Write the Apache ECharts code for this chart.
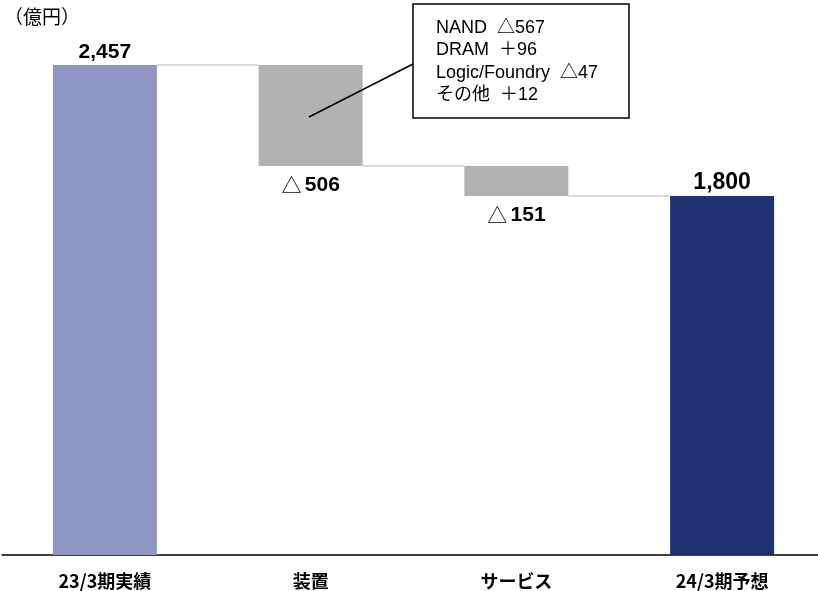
<!DOCTYPE html>
<html>
<head>
<meta charset="utf-8">
<script src="https://cdn.jsdelivr.net/npm/echarts@6/dist/echarts.min.js"></script>
<style>
html,body{margin:0;padding:0;background:#fff;}
#c{width:818px;height:591px;}
</style>
</head>
<body>
<div id="c"></div>
<script>
const categories = ['23/3期実績', '装置', 'サービス', '24/3期予想'];
const changes = [2457, -506, -151, 1800];
const barColors = ['#8f96c4', '#b2b2b2', '#b2b2b2', '#1f3173'];
const annotationLines = ['NAND  △567', 'DRAM  ＋96', 'Logic/Foundry  △47', 'その他  ＋12'];
const unitLabel = '（億円）';

// build waterfall
const base = [], vis = [];
let run = 0;
changes.forEach((v, i) => {
  if (i === 0 || i === changes.length - 1) {
    base.push(0); vis.push(Math.abs(v)); run = v;
  } else {
    const next = run + v;
    base.push(Math.min(run, next)); vis.push(Math.abs(v)); run = next;
  }
});
// connector levels between consecutive bars
const connectors = [];
let lvl = changes[0];
for (let i = 0; i < changes.length - 1; i++) {
  connectors.push([i, lvl]);
  if (i + 1 < changes.length - 1) lvl += changes[i + 1];
}

const BAR_W = 104;
const fmt = n => n.toLocaleString('en-US');

const chart = echarts.init(document.getElementById('c'));
chart.setOption({
  animation: false,
  grid: {left: 2, right: -7, top: 16.5, bottom: 36, outerBoundsMode: 'none', containLabel: false},
  xAxis: {
    type: 'category',
    data: categories,
    axisLine: {lineStyle: {color: '#000', width: 1.5}},
    axisTick: {show: false},
    axisLabel: {
      color: '#000', fontFamily: 'Noto Sans CJK JP', fontWeight: 'bold', fontSize: 18,
      margin: 17
    }
  },
  yAxis: {type: 'value', min: 0, max: 2700, show: false, splitLine: {show: false}},
  series: [
    {
      type: 'custom', z: 1, silent: true,
      data: connectors,
      renderItem: function (params, api) {
        const i = api.value(0), v = api.value(1);
        const p0 = api.coord([i, v]);
        const p1 = api.coord([i + 1, v]);
        return {
          type: 'line',
          shape: {x1: p0[0] + BAR_W / 2, y1: p0[1], x2: p1[0] - BAR_W / 2, y2: p1[1]},
          style: {stroke: '#d9d9d9', lineWidth: 2}
        };
      }
    },
    {
      type: 'bar', stack: 'w', data: base, barWidth: BAR_W, z: 2,
      itemStyle: {color: 'transparent'}, silent: true
    },
    {
      type: 'bar', stack: 'w', barWidth: BAR_W, z: 2,
      data: vis.map((v, i) => {
        const neg = changes[i] < 0;
        return {
          value: v,
          itemStyle: {color: barColors[i]},
          label: neg ? {
            show: true, position: 'bottom', distance: 9,
            formatter: '{t|△} {n|' + fmt(Math.abs(changes[i])) + '}',
            rich: {
              t: {fontFamily: 'Noto Sans CJK JP', fontSize: 20, color: '#000'},
              n: {fontFamily: 'Liberation Sans', fontWeight: 'bold', fontSize: 21, color: '#000'}
            }
          } : {
            show: true, position: 'top', distance: 2,
            formatter: fmt(changes[i]),
            fontFamily: 'Liberation Sans', fontWeight: 'bold',
            fontSize: i === changes.length - 1 ? 23 : 21, color: '#000'
          }
        };
      })
    }
  ],
  graphic: [
    {type: 'text', left: 4, top: 7, style: {text: unitLabel, fontFamily: 'Noto Sans CJK JP', fontSize: 19, fill: '#000'}},
    {type: 'line', shape: {x1: 309, y1: 117, x2: 413, y2: 64}, style: {stroke: '#000', lineWidth: 1.5}, z: 10},
    {type: 'rect', shape: {x: 413, y: 4, width: 216, height: 114}, style: {fill: '#fff', stroke: '#000', lineWidth: 1.5}, z: 10},
    {type: 'text', left: 436, top: 17, z: 11,
      style: {text: annotationLines.join('\n'), fontFamily: 'Liberation Sans, Noto Sans CJK JP', fontSize: 18, lineHeight: 22.3, fill: '#000'}}
  ]
});
</script>
</body>
</html>
